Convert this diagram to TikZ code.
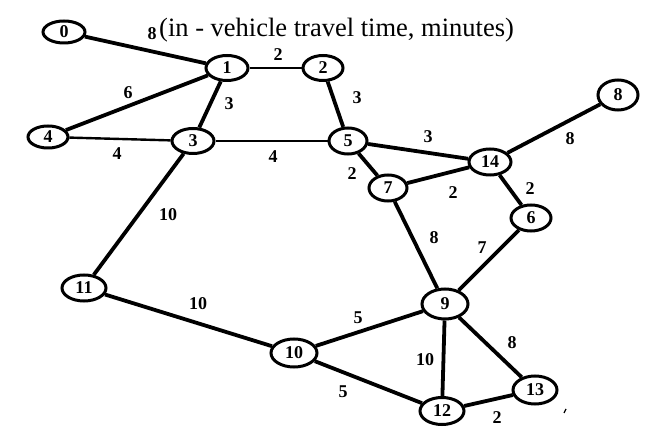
\documentclass[tikz,border=0pt]{standalone}
\usepackage{fontspec}
\setmainfont{Liberation Serif}
\usetikzlibrary{shapes.geometric}
\begin{document}
\begin{tikzpicture}[x=1pt,y=-1pt,
  vnode/.style={draw,ellipse,line width=3pt,minimum width=42pt,minimum height=25pt,inner sep=0pt,font=\fontsize{18}{18}\selectfont\bfseries},
  edge/.style={line width=3.8pt},
  thinedge/.style={line width=2.4pt},
  wlabel/.style={font=\fontsize{18}{18}\selectfont\bfseries,inner sep=0pt}]
\useasboundingbox (0,0) rectangle (661,435);
\fill[white] (0,0) rectangle (661,435);
\node[vnode,minimum height=22pt] (n0) at (64,32) {0};
\node[vnode] (n1) at (227,68) {1};
\node[vnode,minimum width=40pt] (n2) at (323,68) {2};
\node[vnode] (n3) at (193,141) {3};
\node[vnode,minimum width=40pt,minimum height=22pt] (n4) at (48,137) {4};
\node[vnode,minimum width=38pt,minimum height=26pt] (n5) at (348,141) {5};
\node[vnode,minimum width=38pt,minimum height=26pt] (n7) at (388,188) {7};
\node[vnode,minimum width=42pt,minimum height=26pt] (n14) at (490,162) {14};
\node[vnode,minimum width=40pt,minimum height=30pt] (n8) at (618,95) {8};
\node[vnode,minimum width=40pt,minimum height=26pt] (n6) at (531,218) {6};
\node[vnode,minimum width=46pt,minimum height=30pt] (n9) at (445,304) {9};
\node[vnode,minimum width=44pt,minimum height=26pt] (n11) at (84,288) {11};
\node[vnode,minimum width=46pt,minimum height=28pt] (n10) at (294,353) {10};
\node[vnode,minimum width=44pt,minimum height=27pt] (n12) at (442,411) {12};
\node[vnode,minimum width=44pt,minimum height=28pt] (n13) at (535,390) {13};
\draw[edge] (n0) -- (n1);
\draw[edge] (n1) -- (n4);
\draw[edge] (n1) -- (n3);
\draw[thinedge] (n1) -- (n2);
\draw[edge] (n2) -- (n5);
\draw[thinedge] (n4) -- (n3);
\draw[thinedge] (n3) -- (n5);
\draw[edge] (n3) -- (n11);
\draw[edge] (n5) -- (n14);
\draw[edge] (n5) -- (n7);
\draw[edge] (n7) -- (n14);
\draw[edge] (n14) -- (n8);
\draw[edge] (n14) -- (n6);
\draw[edge] (n7) -- (n9);
\draw[edge] (n6) -- (n9);
\draw[edge] (n11) -- (n10);
\draw[edge] (n10) -- (n9);
\draw[edge] (n9) -- (n12);
\draw[edge] (n9) -- (n13);
\draw[edge] (n10) -- (n12);
\draw[edge] (n12) -- (n13);
\node[wlabel] (l01) at (152,34) {8};
\node[font=\fontsize{26.5}{26.5}\selectfont,anchor=west,inner sep=0pt] (title) at (159,30) {(in - vehicle travel time, minutes)};
\node[wlabel] (l12) at (278,55) {2};
\node[wlabel] (l14) at (128,93) {6};
\node[wlabel] (l13) at (229,104) {3};
\node[wlabel] (l43) at (117,154) {4};
\node[wlabel] (l35) at (273,157) {4};
\node[wlabel] (l25) at (357,98) {3};
\node[wlabel] (l514) at (428,137) {3};
\node[wlabel] (l57) at (352,174) {2};
\node[wlabel] (l714) at (453,193) {2};
\node[wlabel] (l148) at (570,139) {8};
\node[wlabel] (l146) at (530,189) {2};
\node[wlabel] (l311) at (168,215) {10};
\node[wlabel] (l79) at (434,238) {8};
\node[wlabel] (l69) at (482,248) {7};
\node[wlabel] (l1110) at (198,304) {10};
\node[wlabel] (l109) at (358,318) {5};
\node[wlabel] (l912) at (425,360) {10};
\node[wlabel] (l913) at (512,343) {8};
\node[wlabel] (l1012) at (343,392) {5};
\node[wlabel] (l1213) at (497,418) {2};
\coordinate (m1) at (566,409);
\coordinate (m2) at (564,413);
\draw[line width=1.2pt] (m1) -- (m2);
\end{tikzpicture}
\end{document}
